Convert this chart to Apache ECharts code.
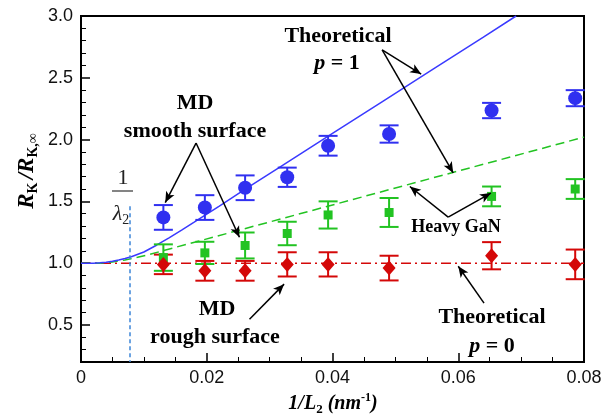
<!DOCTYPE html>
<html>
<head>
<meta charset="utf-8">
<script src="https://cdn.jsdelivr.net/npm/echarts@6/dist/echarts.min.js"></script>
<style>
  html, body { margin: 0; padding: 0; background: #fff; }
  #chart { width: 613px; height: 418px; }
</style>
</head>
<body>
<div id="chart"></div>
<script>
// MD sample positions (1/L2, nm^-1)
var xMD = [0.0131, 0.0197, 0.0261, 0.0328, 0.0393, 0.0490, 0.0653, 0.0786];
// MD smooth surface (blue circles)
var smoothY = [1.37, 1.45, 1.61, 1.695, 1.95, 2.045, 2.235, 2.335];
var smoothErr = [0.10, 0.10, 0.10, 0.078, 0.08, 0.07, 0.062, 0.065];
// heavy GaN (green squares)
var heavyY = [1.045, 1.083, 1.143, 1.24, 1.39, 1.41, 1.54, 1.60];
var heavyErr = [0.107, 0.09, 0.105, 0.095, 0.11, 0.117, 0.08, 0.08];
// MD rough surface (red diamonds)
var roughY = [0.99, 0.938, 0.938, 0.99, 0.99, 0.96, 1.06, 0.99];
var roughErr = [0.079, 0.08, 0.08, 0.098, 0.098, 0.10, 0.11, 0.12];

// theoretical p = 1 (blue solid)
var p1X = [0, 0.002, 0.003, 0.004, 0.005, 0.006, 0.007, 0.008, 0.010, 0.012, 0.014, 0.016, 0.018,
           0.020, 0.022, 0.024, 0.026, 0.032, 0.040, 0.048, 0.056, 0.064, 0.0692];
var p1Y = [1.0, 1.0, 1.003, 1.008, 1.015, 1.025, 1.037, 1.052, 1.09, 1.145, 1.205, 1.268, 1.332,
           1.397, 1.462, 1.528, 1.594, 1.79, 2.05, 2.31, 2.57, 2.83, 3.0];
// theoretical heavy GaN (green dashed)
var gX = [0, 0.003, 0.005, 0.007, 0.009, 0.011, 0.013, 0.08];
var gY = [1.0, 1.0, 1.01, 1.025, 1.047, 1.072, 1.10, 2.02];
// theoretical p = 0 (red dash-dot)
var p0X = [0, 0.08];
var p0Y = [1.0, 1.0];

var invLambda2 = 0.0078;

// axis ticks
var yMajor = [0.5, 1.0, 1.5, 2.0, 2.5, 3.0];
var yMinor = [0.3, 0.4, 0.6, 0.7, 0.8, 0.9, 1.1, 1.2, 1.3, 1.4, 1.6, 1.7, 1.8, 1.9,
              2.1, 2.2, 2.3, 2.4, 2.6, 2.7, 2.8, 2.9];

function zip(a, b) {
  return a.map(function (v, i) { return [v, b[i]]; });
}
function bars(ys, errs) {
  return xMD.map(function (x, i) { return [x, ys[i] - errs[i], ys[i] + errs[i]]; });
}
function errorBars(color) {
  return function (params, api) {
    var x = api.value(0);
    var lo = api.coord([x, api.value(1)]);
    var hi = api.coord([x, api.value(2)]);
    var w = 9.5;
    var st = { stroke: color, lineWidth: 2 };
    return {
      type: 'group',
      children: [
        { type: 'line', shape: { x1: lo[0], y1: lo[1], x2: hi[0], y2: hi[1] }, style: st },
        { type: 'line', shape: { x1: lo[0] - w, y1: lo[1], x2: lo[0] + w, y2: lo[1] }, style: st },
        { type: 'line', shape: { x1: hi[0] - w, y1: hi[1], x2: hi[0] + w, y2: hi[1] }, style: st }
      ]
    };
  };
}

var BLUE = '#3030f0', GREEN = '#22c322', RED = '#d40808';
var serif = '"Liberation Serif", "Times New Roman", serif';

function arrow(x1, y1, x2, y2) {
  return [{ coord: [x1, y1] }, { coord: [x2, y2] }];
}

var myChart = echarts.init(document.getElementById('chart'));
myChart.setOption({
  animation: false,
  grid: { left: 81, right: 29, top: 16, bottom: 56, show: true, borderColor: '#000', borderWidth: 2 },
  xAxis: {
    type: 'value', min: 0, max: 0.08, interval: 0.02,
    axisLine: { show: true, onZero: false, lineStyle: { color: '#000', width: 2 } },
    axisTick: { inside: true, length: 9, lineStyle: { color: '#000', width: 1.5 } },
    minorTick: { show: true, splitNumber: 4, length: 5, lineStyle: { color: '#000', width: 1 } },
    axisLabel: {
      fontSize: 18, color: '#111', margin: 7, fontFamily: 'Liberation Sans',
      formatter: function (v) { return v === 0 ? '0' : v.toFixed(2); }
    },
    splitLine: { show: false }
  },
  yAxis: [{
    type: 'value', min: 0.2, max: 3.0,
    axisLine: { show: true, onZero: false, lineStyle: { color: '#000', width: 2 } },
    axisTick: { inside: true, length: 9, customValues: yMajor, lineStyle: { color: '#000', width: 1.5 } },
    axisLabel: {
      customValues: yMajor, fontSize: 18, color: '#111', margin: 8, fontFamily: 'Liberation Sans',
      formatter: function (v) { return v.toFixed(1); }
    },
    splitLine: { show: false }
  }, {
    type: 'value', min: 0.2, max: 3.0, position: 'left',
    axisLine: { show: false },
    axisTick: { show: true, inside: true, length: 5, customValues: yMinor, lineStyle: { color: '#000', width: 1 } },
    axisLabel: { show: false },
    splitLine: { show: false }
  }],
  series: [
    {
      name: 'Theoretical p=0', type: 'line', data: zip(p0X, p0Y), showSymbol: false, z: 2,
      lineStyle: { color: RED, width: 1.5, type: [10, 4, 2, 4] }
    },
    {
      name: 'Theoretical heavy GaN', type: 'line', data: zip(gX, gY), showSymbol: false, z: 2,
      lineStyle: { color: GREEN, width: 1.5, type: [9, 5] }
    },
    {
      name: 'Theoretical p=1', type: 'line', data: zip(p1X, p1Y), showSymbol: false, z: 2,
      lineStyle: { color: '#3a3aff', width: 1.5 }
    },
    { type: 'custom', renderItem: errorBars(BLUE), data: bars(smoothY, smoothErr), encode: { x: 0, y: [1, 2] }, z: 3 },
    { type: 'custom', renderItem: errorBars(GREEN), data: bars(heavyY, heavyErr), encode: { x: 0, y: [1, 2] }, z: 3 },
    { type: 'custom', renderItem: errorBars(RED), data: bars(roughY, roughErr), encode: { x: 0, y: [1, 2] }, z: 3 },
    {
      name: 'MD smooth surface', type: 'scatter', data: zip(xMD, smoothY), symbol: 'circle', symbolSize: 14, z: 4,
      itemStyle: { color: BLUE, opacity: 1 }
    },
    {
      name: 'MD heavy GaN', type: 'scatter', data: zip(xMD, heavyY), symbol: 'rect', symbolSize: 9, z: 4,
      itemStyle: { color: GREEN, opacity: 1 }
    },
    {
      name: 'MD rough surface', type: 'scatter', data: zip(xMD, roughY), symbol: 'diamond', symbolSize: [13, 15], z: 4,
      itemStyle: { color: RED, opacity: 1 }
    },
    {
      // 1/lambda2 marker and annotation arrows
      type: 'line', data: [], z: 5,
      markLine: {
        silent: true, animation: false,
        symbol: ['none', 'arrow'], symbolSize: [7, 11],
        label: { show: false },
        lineStyle: { color: '#000', width: 1.5, type: 'solid' },
        data: [
          [{ coord: [invLambda2, 1.46], symbol: 'none', lineStyle: { color: '#3d85d8', type: [4, 3], width: 1.5 } },
           { coord: [invLambda2, 0.2], symbol: 'none' }],
          arrow(0.0479, 2.726, 0.0541, 2.53),
          arrow(0.0479, 2.726, 0.0592, 1.73),
          arrow(0.0183, 1.972, 0.0134, 1.49),
          arrow(0.0183, 1.972, 0.0252, 1.21),
          arrow(0.0584, 1.373, 0.0523, 1.62),
          arrow(0.0584, 1.373, 0.0652, 1.567),
          arrow(0.0268, 0.546, 0.0323, 0.83),
          arrow(0.0641, 0.676, 0.0600, 0.975)
        ]
      }
    }
  ],
  graphic: [
    { type: 'text', x: 338, y: 36, style: { text: 'Theoretical', fontFamily: serif, fontWeight: 'bold', fontSize: 22, fill: '#000', align: 'center', verticalAlign: 'middle' } },
    { type: 'text', x: 337, y: 63, style: { text: '{i|p} = 1', fontFamily: serif, fontWeight: 'bold', fontSize: 22, fill: '#000', align: 'center', verticalAlign: 'middle',
      rich: { i: { fontFamily: serif, fontWeight: 'bold', fontStyle: 'italic', fontSize: 22 } } } },
    { type: 'text', x: 195, y: 103, style: { text: 'MD', fontFamily: serif, fontWeight: 'bold', fontSize: 22, fill: '#000', align: 'center', verticalAlign: 'middle' } },
    { type: 'text', x: 195, y: 131, style: { text: 'smooth surface', fontFamily: serif, fontWeight: 'bold', fontSize: 22, fill: '#000', align: 'center', verticalAlign: 'middle' } },
    { type: 'text', x: 456, y: 227, style: { text: 'Heavy GaN', fontFamily: serif, fontWeight: 'bold', fontSize: 18, fill: '#000', align: 'center', verticalAlign: 'middle' } },
    { type: 'text', x: 217, y: 309, style: { text: 'MD', fontFamily: serif, fontWeight: 'bold', fontSize: 22, fill: '#000', align: 'center', verticalAlign: 'middle' } },
    { type: 'text', x: 215, y: 337, style: { text: 'rough surface', fontFamily: serif, fontWeight: 'bold', fontSize: 22, fill: '#000', align: 'center', verticalAlign: 'middle' } },
    { type: 'text', x: 492, y: 317, style: { text: 'Theoretical', fontFamily: serif, fontWeight: 'bold', fontSize: 22, fill: '#000', align: 'center', verticalAlign: 'middle' } },
    { type: 'text', x: 492, y: 346, style: { text: '{i|p} = 0', fontFamily: serif, fontWeight: 'bold', fontSize: 22, fill: '#000', align: 'center', verticalAlign: 'middle',
      rich: { i: { fontFamily: serif, fontWeight: 'bold', fontStyle: 'italic', fontSize: 22 } } } },
    // 1/lambda2 fraction
    { type: 'text', x: 123, y: 178, style: { text: '1', fontFamily: serif, fontSize: 22, fill: '#222', align: 'center', verticalAlign: 'middle' } },
    { type: 'line', shape: { x1: 112, y1: 191, x2: 133, y2: 191 }, style: { stroke: '#333', lineWidth: 1.2 } },
    { type: 'text', x: 121, y: 214, style: { text: '{l|λ}{s|2}', align: 'center', verticalAlign: 'middle', fill: '#222',
      rich: { l: { fontFamily: serif, fontStyle: 'italic', fontSize: 22, lineHeight: 26, fill: '#222' },
              s: { fontFamily: serif, fontSize: 14, lineHeight: 14, verticalAlign: 'bottom', fill: '#222' } } } },
    // axis titles
    { type: 'text', x: 27, y: 171, rotation: Math.PI / 2, style: { text: '{r|R}{s|K} {r|/R}{s|K,∞}', align: 'center', verticalAlign: 'middle', fill: '#000',
      rich: { r: { fontFamily: serif, fontWeight: 'bold', fontStyle: 'italic', fontSize: 23, lineHeight: 26, fill: '#000' },
              s: { fontFamily: serif, fontWeight: 'bold', fontSize: 14, lineHeight: 14, verticalAlign: 'bottom', fill: '#000' } } } },
    { type: 'text', x: 333, y: 404, style: { text: '{i|1/L}{s|2}{i| (nm}{p|-1}{i|)}', align: 'center', verticalAlign: 'middle', fill: '#000',
      rich: { i: { fontFamily: serif, fontWeight: 'bold', fontStyle: 'italic', fontSize: 20, lineHeight: 24, fill: '#000' },
              s: { fontFamily: serif, fontWeight: 'bold', fontSize: 13, lineHeight: 13, verticalAlign: 'bottom', fill: '#000' },
              p: { fontFamily: serif, fontWeight: 'bold', fontSize: 12, lineHeight: 12, verticalAlign: 'top', fill: '#000' } } } }
  ]
});
</script>
</body>
</html>
